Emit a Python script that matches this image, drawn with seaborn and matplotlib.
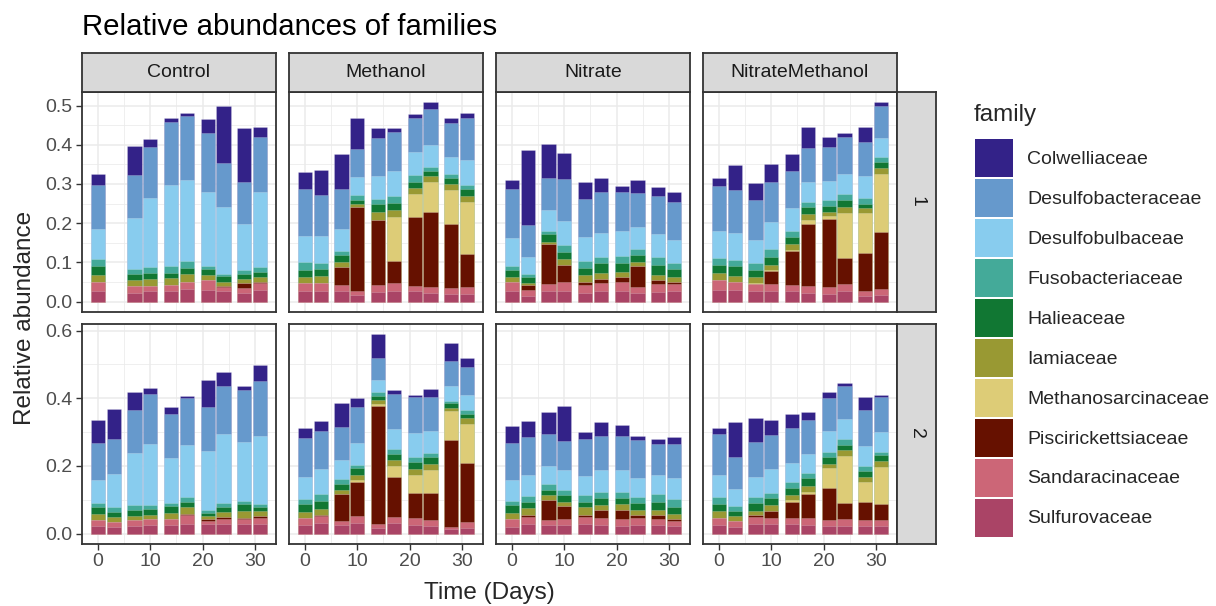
import numpy as np
import pandas as pd
import matplotlib
matplotlib.use("Agg")
import matplotlib.pyplot as plt
from matplotlib.patches import Patch
from matplotlib.ticker import FixedLocator, FormatStrFormatter
import seaborn as sns

# ---------------- data ----------------
families = ["Colwelliaceae", "Desulfobacteraceae", "Desulfobulbaceae", "Fusobacteriaceae",
            "Halieaceae", "Iamiaceae", "Methanosarcinaceae", "Piscirickettsiaceae",
            "Sandaracinaceae", "Sulfurovaceae"]
family_colors = ["#332288", "#6699CC", "#88CCEE", "#44AA99", "#117733",
                 "#999933", "#DDCC77", "#661100", "#CC6677", "#AA4466"]
treatments = ["Control", "Methanol", "Nitrate", "NitrateMethanol"]
replicates = ["1", "2"]

days_all = [0, 3, 7, 10, 14, 17, 21, 24, 28, 31]
days_control_1 = [0, 7, 10, 14, 17, 21, 24, 28, 31]

# cumulative relative abundance at the top of each family's segment,
# stacked bottom -> top: Sulfurovaceae, Sandaracinaceae, Piscirickettsiaceae,
# Methanosarcinaceae, Iamiaceae, Halieaceae, Fusobacteriaceae,
# Desulfobulbaceae, Desulfobacteraceae, Colwelliaceae
control_1 = [
    [0.026, 0.049, 0.049, 0.049, 0.068, 0.090, 0.109, 0.184, 0.297, 0.326],
    [0.023, 0.040, 0.040, 0.040, 0.056, 0.071, 0.084, 0.213, 0.324, 0.397],
    [0.026, 0.040, 0.040, 0.040, 0.058, 0.074, 0.089, 0.265, 0.395, 0.414],
    [0.026, 0.043, 0.043, 0.043, 0.059, 0.074, 0.091, 0.297, 0.459, 0.467],
    [0.032, 0.051, 0.051, 0.051, 0.070, 0.085, 0.103, 0.309, 0.474, 0.480],
    [0.030, 0.054, 0.054, 0.054, 0.068, 0.082, 0.091, 0.279, 0.431, 0.466],
    [0.026, 0.037, 0.040, 0.040, 0.051, 0.064, 0.071, 0.241, 0.353, 0.500],
    [0.021, 0.034, 0.047, 0.047, 0.058, 0.071, 0.081, 0.198, 0.305, 0.443],
    [0.030, 0.047, 0.049, 0.049, 0.062, 0.075, 0.087, 0.279, 0.419, 0.444],
]
methanol_1 = [
    [0.026, 0.047, 0.047, 0.047, 0.062, 0.081, 0.101, 0.168, 0.286, 0.331],
    [0.027, 0.047, 0.047, 0.047, 0.064, 0.084, 0.098, 0.167, 0.271, 0.336],
    [0.026, 0.043, 0.087, 0.087, 0.100, 0.118, 0.128, 0.186, 0.286, 0.376],
    [0.017, 0.027, 0.242, 0.242, 0.248, 0.259, 0.271, 0.317, 0.389, 0.468],
    [0.024, 0.043, 0.208, 0.208, 0.229, 0.248, 0.261, 0.319, 0.416, 0.442],
    [0.028, 0.047, 0.103, 0.215, 0.233, 0.252, 0.269, 0.333, 0.432, 0.443],
    [0.026, 0.040, 0.215, 0.275, 0.289, 0.305, 0.322, 0.382, 0.468, 0.479],
    [0.021, 0.036, 0.229, 0.306, 0.319, 0.333, 0.344, 0.400, 0.490, 0.509],
    [0.020, 0.034, 0.197, 0.284, 0.299, 0.315, 0.325, 0.369, 0.455, 0.468],
    [0.020, 0.037, 0.120, 0.255, 0.269, 0.286, 0.297, 0.362, 0.468, 0.480],
]
nitrate_1 = [
    [0.027, 0.051, 0.051, 0.051, 0.062, 0.081, 0.091, 0.162, 0.286, 0.310],
    [0.015, 0.030, 0.041, 0.041, 0.047, 0.062, 0.070, 0.114, 0.194, 0.387],
    [0.027, 0.044, 0.147, 0.147, 0.153, 0.173, 0.181, 0.233, 0.316, 0.402],
    [0.027, 0.049, 0.094, 0.094, 0.109, 0.126, 0.144, 0.205, 0.312, 0.378],
    [0.023, 0.041, 0.051, 0.051, 0.068, 0.085, 0.103, 0.165, 0.262, 0.305],
    [0.026, 0.047, 0.058, 0.058, 0.073, 0.097, 0.113, 0.175, 0.279, 0.316],
    [0.028, 0.050, 0.062, 0.062, 0.075, 0.097, 0.115, 0.179, 0.279, 0.295],
    [0.023, 0.038, 0.090, 0.090, 0.101, 0.118, 0.134, 0.190, 0.276, 0.309],
    [0.024, 0.044, 0.056, 0.056, 0.068, 0.094, 0.114, 0.173, 0.269, 0.291],
    [0.026, 0.044, 0.050, 0.050, 0.062, 0.083, 0.098, 0.158, 0.255, 0.279],
]
nitratemethanol_1 = [
    [0.030, 0.054, 0.054, 0.054, 0.073, 0.094, 0.111, 0.179, 0.295, 0.316],
    [0.030, 0.049, 0.049, 0.049, 0.064, 0.090, 0.107, 0.175, 0.285, 0.348],
    [0.027, 0.045, 0.045, 0.048, 0.062, 0.081, 0.098, 0.156, 0.258, 0.302],
    [0.026, 0.044, 0.077, 0.081, 0.094, 0.113, 0.134, 0.203, 0.305, 0.350],
    [0.026, 0.043, 0.130, 0.132, 0.147, 0.165, 0.181, 0.239, 0.333, 0.376],
    [0.023, 0.040, 0.198, 0.209, 0.224, 0.242, 0.255, 0.305, 0.391, 0.444],
    [0.019, 0.036, 0.211, 0.218, 0.229, 0.244, 0.258, 0.308, 0.393, 0.419],
    [0.026, 0.044, 0.111, 0.225, 0.242, 0.258, 0.275, 0.325, 0.419, 0.429],
    [0.015, 0.028, 0.124, 0.226, 0.239, 0.250, 0.263, 0.319, 0.408, 0.444],
    [0.017, 0.032, 0.178, 0.326, 0.340, 0.356, 0.369, 0.416, 0.498, 0.509],
]
control_2 = [
    [0.023, 0.041, 0.041, 0.041, 0.058, 0.077, 0.091, 0.157, 0.267, 0.336],
    [0.018, 0.035, 0.035, 0.035, 0.048, 0.064, 0.077, 0.176, 0.279, 0.367],
    [0.023, 0.040, 0.040, 0.040, 0.053, 0.069, 0.083, 0.239, 0.365, 0.417],
    [0.025, 0.044, 0.044, 0.044, 0.056, 0.072, 0.084, 0.264, 0.412, 0.431],
    [0.026, 0.042, 0.042, 0.042, 0.061, 0.081, 0.091, 0.223, 0.354, 0.374],
    [0.029, 0.056, 0.059, 0.059, 0.077, 0.094, 0.108, 0.262, 0.402, 0.406],
    [0.027, 0.036, 0.043, 0.043, 0.051, 0.061, 0.071, 0.245, 0.374, 0.455],
    [0.028, 0.044, 0.049, 0.049, 0.064, 0.079, 0.089, 0.294, 0.436, 0.479],
    [0.028, 0.044, 0.047, 0.047, 0.066, 0.086, 0.097, 0.272, 0.425, 0.436],
    [0.028, 0.047, 0.051, 0.051, 0.066, 0.079, 0.087, 0.288, 0.452, 0.497],
]
methanol_2 = [
    [0.026, 0.047, 0.047, 0.047, 0.063, 0.086, 0.101, 0.168, 0.283, 0.311],
    [0.032, 0.052, 0.056, 0.056, 0.072, 0.096, 0.116, 0.191, 0.303, 0.333],
    [0.024, 0.037, 0.117, 0.117, 0.130, 0.146, 0.162, 0.217, 0.316, 0.385],
    [0.030, 0.051, 0.153, 0.158, 0.173, 0.195, 0.204, 0.267, 0.373, 0.400],
    [0.015, 0.027, 0.378, 0.383, 0.395, 0.407, 0.419, 0.454, 0.520, 0.590],
    [0.030, 0.049, 0.168, 0.200, 0.217, 0.235, 0.250, 0.309, 0.412, 0.425],
    [0.026, 0.047, 0.121, 0.173, 0.190, 0.212, 0.225, 0.296, 0.405, 0.411],
    [0.023, 0.040, 0.121, 0.188, 0.205, 0.225, 0.239, 0.303, 0.405, 0.428],
    [0.013, 0.020, 0.277, 0.362, 0.372, 0.387, 0.392, 0.435, 0.511, 0.563],
    [0.017, 0.035, 0.209, 0.324, 0.341, 0.353, 0.365, 0.410, 0.491, 0.519],
]
nitrate_2 = [
    [0.020, 0.044, 0.044, 0.044, 0.061, 0.084, 0.097, 0.157, 0.267, 0.319],
    [0.028, 0.049, 0.055, 0.055, 0.074, 0.094, 0.111, 0.173, 0.286, 0.333],
    [0.026, 0.041, 0.099, 0.099, 0.114, 0.130, 0.146, 0.201, 0.294, 0.360],
    [0.026, 0.044, 0.081, 0.081, 0.094, 0.114, 0.130, 0.188, 0.275, 0.378],
    [0.028, 0.049, 0.056, 0.056, 0.077, 0.094, 0.114, 0.171, 0.279, 0.299],
    [0.026, 0.047, 0.069, 0.069, 0.084, 0.106, 0.123, 0.188, 0.288, 0.330],
    [0.023, 0.044, 0.069, 0.069, 0.086, 0.106, 0.123, 0.188, 0.288, 0.321],
    [0.026, 0.047, 0.054, 0.054, 0.071, 0.089, 0.108, 0.165, 0.277, 0.289],
    [0.026, 0.044, 0.054, 0.054, 0.071, 0.094, 0.117, 0.173, 0.264, 0.280],
    [0.022, 0.038, 0.044, 0.044, 0.057, 0.077, 0.102, 0.163, 0.264, 0.286],
]
nitratemethanol_2 = [
    [0.026, 0.047, 0.047, 0.047, 0.066, 0.086, 0.108, 0.173, 0.293, 0.313],
    [0.020, 0.037, 0.037, 0.037, 0.051, 0.067, 0.081, 0.131, 0.227, 0.329],
    [0.028, 0.049, 0.054, 0.054, 0.066, 0.089, 0.108, 0.168, 0.272, 0.341],
    [0.028, 0.047, 0.067, 0.067, 0.083, 0.106, 0.121, 0.191, 0.291, 0.336],
    [0.028, 0.047, 0.092, 0.099, 0.114, 0.135, 0.151, 0.209, 0.311, 0.353],
    [0.026, 0.047, 0.117, 0.124, 0.140, 0.163, 0.178, 0.234, 0.336, 0.360],
    [0.023, 0.041, 0.135, 0.193, 0.207, 0.227, 0.242, 0.303, 0.402, 0.418],
    [0.023, 0.044, 0.089, 0.230, 0.247, 0.262, 0.280, 0.338, 0.435, 0.444],
    [0.021, 0.041, 0.092, 0.152, 0.168, 0.185, 0.200, 0.259, 0.365, 0.403],
    [0.021, 0.041, 0.087, 0.198, 0.214, 0.231, 0.242, 0.299, 0.405, 0.410],
]

panels = {
    ("Control", "1"): (days_control_1, control_1),
    ("Methanol", "1"): (days_all, methanol_1),
    ("Nitrate", "1"): (days_all, nitrate_1),
    ("NitrateMethanol", "1"): (days_all, nitratemethanol_1),
    ("Control", "2"): (days_all, control_2),
    ("Methanol", "2"): (days_all, methanol_2),
    ("Nitrate", "2"): (days_all, nitrate_2),
    ("NitrateMethanol", "2"): (days_all, nitratemethanol_2),
}

stack_order = families[::-1]  # bottom -> top
rows = []
for (tr, rep), (days, cum) in panels.items():
    for d, tops in zip(days, cum):
        for fam, top in zip(stack_order, tops):
            rows.append({"treatment": tr, "rep": rep, "day": d, "family": fam, "cum": top})
df = pd.DataFrame(rows)
palette = dict(zip(families, family_colors))

# ---------------- style ----------------
sns.set_style("white")
plt.rcParams["font.family"] = ["Liberation Sans", "DejaVu Sans"]

W, H = 1216, 606
fig = plt.figure(figsize=(W / 100, H / 100), dpi=100)

def fx(px):
    return px / W

def fy(py):
    return 1 - py / H

col_left = [82, 289, 496, 703]
col_w = 194
row_top = [92, 324]
row_h = 219.5
border = "#333333"

x_lim = (-3.035, 34.035)

for r, rep in enumerate(replicates):
    row_max = df[df.rep == rep]["cum"].max()
    ylim = (-0.05 * row_max, row_max * 1.05)
    if rep == "1":
        majors = [0.0, 0.1, 0.2, 0.3, 0.4, 0.5]
        minors = [0.05, 0.15, 0.25, 0.35, 0.45]
    else:
        majors = [0.0, 0.2, 0.4, 0.6]
        minors = [0.1, 0.3, 0.5]
    for c, tr in enumerate(treatments):
        ax = fig.add_axes([fx(col_left[c]), fy(row_top[r] + row_h), fx(col_w), row_h / H])
        sub = df[(df.treatment == tr) & (df.rep == rep)]
        sns.barplot(data=sub, x="day", y="cum", hue="family", hue_order=families,
                    palette=palette, native_scale=True, dodge=False, width=0.9,
                    errorbar=None, saturation=1, legend=False,
                    edgecolor=(1, 1, 1, 0.35), linewidth=0.4, ax=ax, zorder=2)
        ax.set_xlim(*x_lim)
        ax.set_ylim(*ylim)
        ax.xaxis.set_major_locator(FixedLocator([0, 10, 20, 30]))
        ax.xaxis.set_minor_locator(FixedLocator([5, 15, 25]))
        ax.yaxis.set_major_locator(FixedLocator(majors))
        ax.yaxis.set_minor_locator(FixedLocator(minors))
        ax.yaxis.set_major_formatter(FormatStrFormatter("%.1f"))
        ax.set_axisbelow(True)
        ax.grid(which="major", color="#EBEBEB", linewidth=1.1, zorder=0)
        ax.grid(which="minor", color="#EBEBEB", linewidth=0.55, zorder=0)
        ax.set_facecolor("white")
        for s in ax.spines.values():
            s.set_color(border)
            s.set_linewidth(1.3)
            s.set_visible(True)
        ax.set_xlabel("")
        ax.set_ylabel("")
        ax.tick_params(which="major", direction="out", length=4.1, width=1.0,
                       color=border, labelcolor="#4D4D4D", labelsize=14, pad=3)
        ax.tick_params(which="minor", length=0)
        ax.tick_params(axis="x", bottom=(r == 1), labelbottom=(r == 1))
        ax.tick_params(axis="y", left=(c == 0), labelleft=(c == 0))

        # top strips
        if r == 0:
            sax = fig.add_axes([fx(col_left[c]), fy(row_top[0]), fx(col_w), 39 / H])
            sax.set_facecolor("#D9D9D9")
            sax.set_xticks([])
            sax.set_yticks([])
            for s in sax.spines.values():
                s.set_color(border)
                s.set_linewidth(1.3)
            sax.text(0.5, 0.5, tr, ha="center", va="center", fontsize=14,
                     color="#1A1A1A", transform=sax.transAxes)
    # right strips
    rax = fig.add_axes([fx(897), fy(row_top[r] + row_h), fx(39), row_h / H])
    rax.set_facecolor("#D9D9D9")
    rax.set_xticks([])
    rax.set_yticks([])
    for s in rax.spines.values():
        s.set_color(border)
        s.set_linewidth(1.3)
    rax.text(0.5, 0.5, rep, ha="center", va="center", fontsize=14, rotation=-90,
             color="#1A1A1A", transform=rax.transAxes)

# titles and labels
fig.text(fx(82), fy(35), "Relative abundances of families", fontsize=21.2,
         ha="left", va="baseline", color="black")
fig.text(fx(489.5), fy(593), "Time (Days)", fontsize=17.5, ha="center", va="center")
fig.text(fx(25), fy(318), "Relative abundance", fontsize=17.5, ha="center",
         va="center", rotation=90)

# legend
fig.text(fx(974), fy(115), "family", fontsize=17.5, ha="left", va="center")
handles = [Patch(facecolor=col, edgecolor="none", label=fam)
           for fam, col in zip(families, family_colors)]
leg = fig.legend(handles=handles, loc="upper left",
                 bbox_to_anchor=(fx(975), fy(139)), frameon=False,
                 fontsize=14, handlelength=1.95, handleheight=2.63,
                 labelspacing=0.1, handletextpad=0.72, borderpad=0,
                 borderaxespad=0)

fig.savefig("out.png", dpi=100)
